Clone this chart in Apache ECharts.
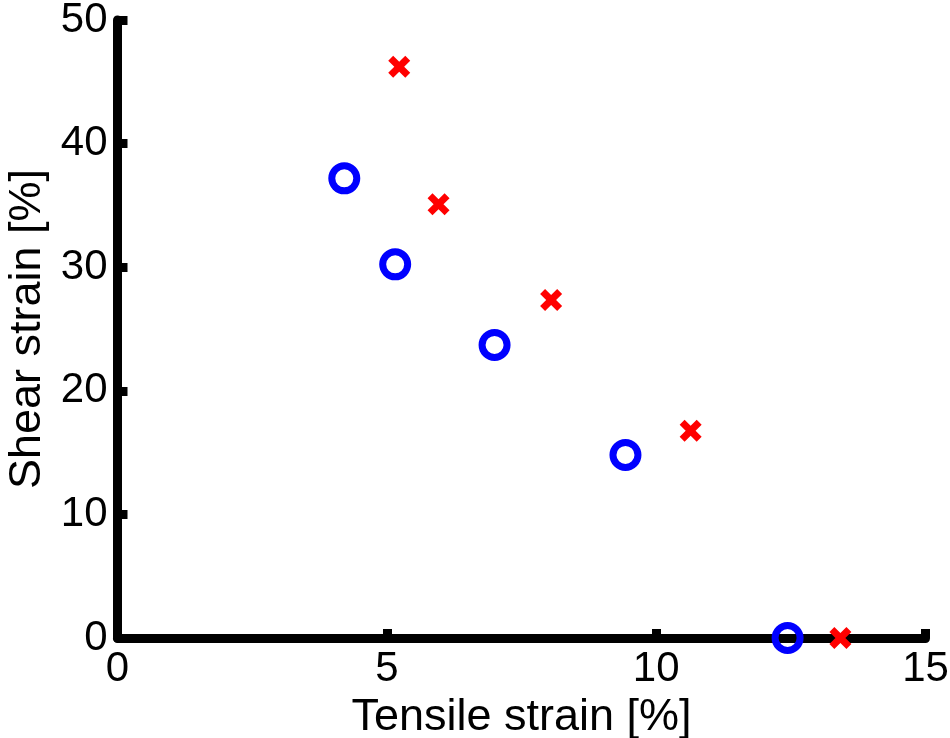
<!DOCTYPE html>
<html>
<head>
<meta charset="utf-8">
<script src="https://cdn.jsdelivr.net/npm/echarts@6/dist/echarts.min.js"></script>
<style>html,body{margin:0;padding:0;background:#fff;}#c{width:950px;height:738px;}</style>
</head>
<body>
<div id="c"></div>
<script>
const circleX = [4.21, 5.155, 7.00, 9.43, 12.44];
const circleY = [37.19, 30.23, 23.71, 14.81, 0];
const crossX = [5.23, 5.96, 8.05, 10.64, 13.42];
const crossY = [46.22, 35.09, 27.35, 16.77, 0];
const xTicks = [0, 5, 10, 15];
const yTicks = [0, 10, 20, 30, 40, 50];
const xName = 'Tensile strain [%]';
const yName = 'Shear strain [%]';

const circles = circleX.map((x, i) => [x, circleY[i]]);
const crosses = crossX.map((x, i) => [x, crossY[i]]);
const crossPath = 'path://M0,4.5 L4.5,0 L10,5.5 L15.5,0 L20,4.5 L14.5,10 L20,15.5 L15.5,20 L10,14.5 L4.5,20 L0,15.5 L5.5,10 Z';
const font = 'Liberation Sans, Arial, Helvetica, sans-serif';

const chart = echarts.init(document.getElementById('c'), null, {renderer: 'canvas'});
chart.setOption({
  animation: false,
  backgroundColor: '#fff',
  grid: {left: 117.5, right: 24.5, top: 20, bottom: 100, containLabel: false, outerBoundsMode: 'none'},
  xAxis: {
    type: 'value', min: xTicks[0], max: xTicks[xTicks.length - 1], interval: 5,
    name: xName, nameLocation: 'middle', nameGap: 52,
    nameTextStyle: {fontFamily: font, fontSize: 45, color: '#000'},
    axisLine: {show: true, onZero: false, lineStyle: {color: '#000', width: 9}},
    axisTick: {show: true, inside: true, length: 9, lineStyle: {color: '#000', width: 9}},
    axisLabel: {fontFamily: font, fontSize: 42, color: '#000', margin: 10},
    splitLine: {show: false}
  },
  yAxis: {
    type: 'value', min: yTicks[0], max: yTicks[yTicks.length - 1], interval: 10,
    name: yName, nameLocation: 'middle', nameGap: 64, nameRotate: 90,
    nameTextStyle: {fontFamily: font, fontSize: 45, color: '#000'},
    axisLine: {show: true, onZero: false, lineStyle: {color: '#000', width: 9}},
    axisTick: {show: true, inside: true, length: 10, lineStyle: {color: '#000', width: 9}},
    axisLabel: {fontFamily: font, fontSize: 42, color: '#000', margin: 10},
    splitLine: {show: false}
  },
  series: [
    {
      type: 'scatter', data: circles, symbol: 'circle', symbolSize: 25,
      itemStyle: {color: 'rgba(0,0,0,0)', borderColor: '#0000ff', borderWidth: 7, opacity: 1},
      z: 5
    },
    {
      type: 'scatter', data: crosses, symbol: crossPath, symbolSize: 22,
      itemStyle: {color: '#ff0000', opacity: 1},
      z: 5
    }
  ]
});
</script>
</body>
</html>
